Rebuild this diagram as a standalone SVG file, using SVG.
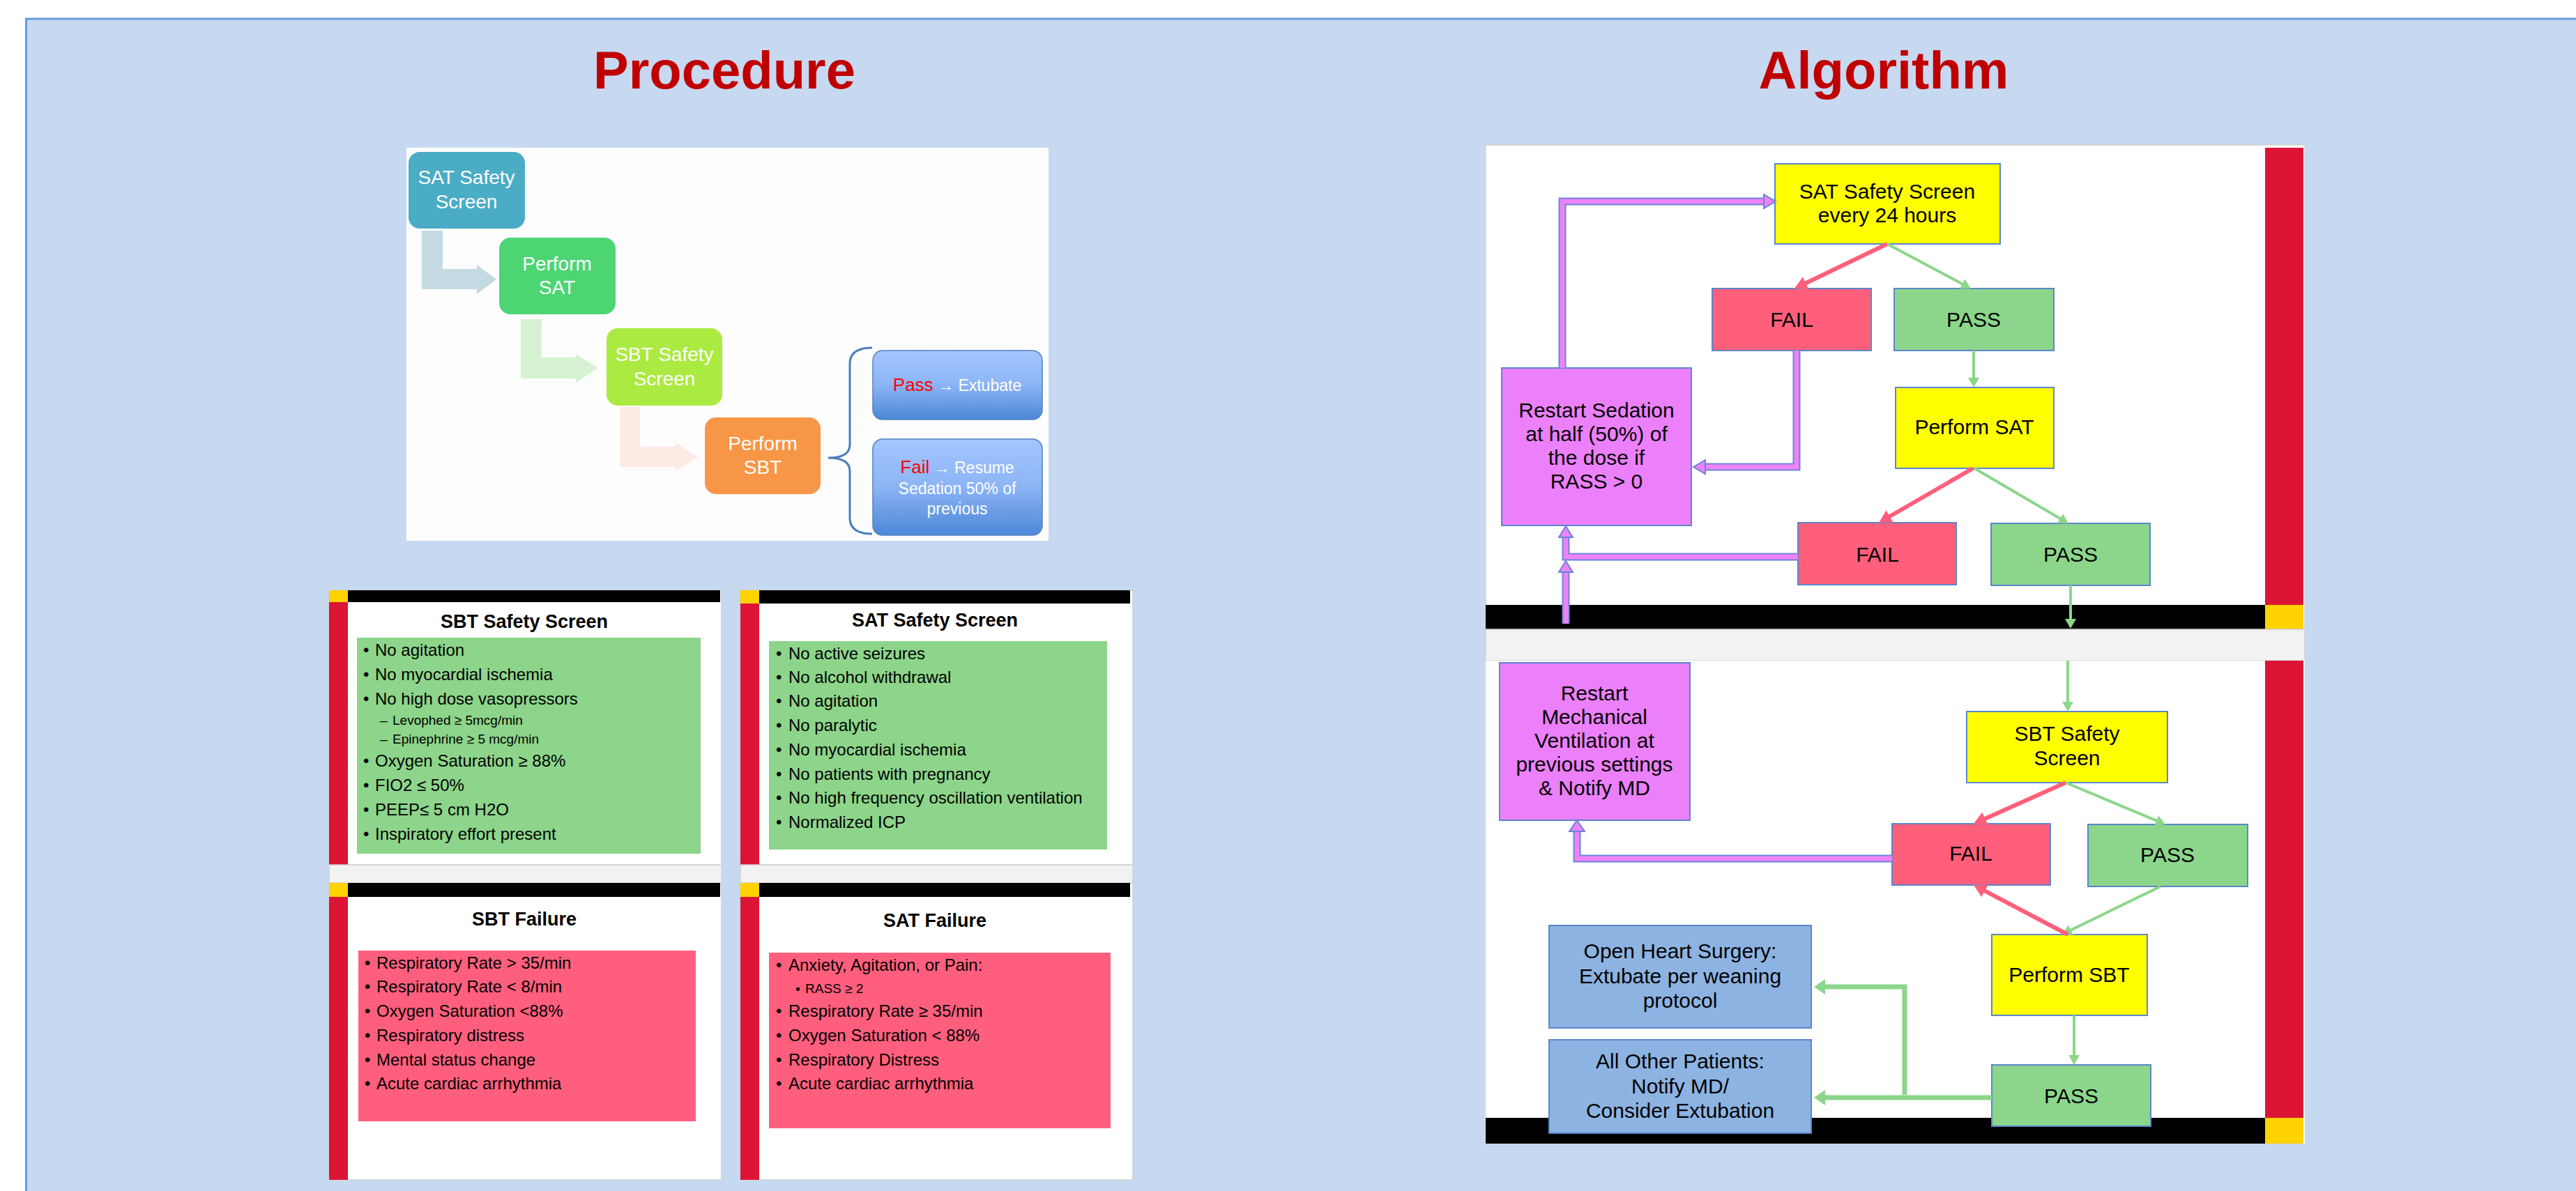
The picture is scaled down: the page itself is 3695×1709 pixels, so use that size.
<svg xmlns="http://www.w3.org/2000/svg" width="3695" height="1709" viewBox="0 0 3695 1709">
<defs>
<style>
text{font-family:"Liberation Sans",Arial,sans-serif}
.ttl{font-weight:bold;font-size:76px;fill:#C00000;text-anchor:middle}
.pw{fill:#fff;font-size:28px;text-anchor:middle}
.pf{fill:#fff;font-size:23px;text-anchor:middle}
.rd{fill:#FF0000;font-size:26px}
.ct{font-weight:bold;font-size:27px;text-anchor:middle;fill:#000}
.b{font-size:24px;fill:#000}
.s{font-size:19px;fill:#000}
.n{font-size:30px;text-anchor:middle;fill:#000}
.bx{stroke:#5B86CC;stroke-width:2}
.red{fill:#FF5F7B}.grn{fill:#8CD68B}.yel{fill:#FFFF00}.mag{fill:#EC80FA}.blu{fill:#8DB3E2}
.ar{stroke:#FF5F7B;stroke-width:6;fill:none}
.ag{stroke:#8CD68B;stroke-width:4;fill:none}
.agt{stroke:#8CD68B;stroke-width:7;fill:none}
.po{stroke:#6A86D8;stroke-width:11;fill:none}
.pi{stroke:#EE82F8;stroke-width:7;fill:none}
.ph{fill:#EE82F8;stroke:#6A86D8;stroke-width:2}
.cw{fill:#fff;stroke:#CFCFCF;stroke-width:1.5}
.cy{fill:#FFD200}.ck{fill:#000}.cr{fill:#DC1537}
.cg{fill:#8CD58A}.cp{fill:#FF5F7D}
.band{fill:#F2F2F2;stroke:#D2D2D2;stroke-width:1.5}
</style>
<linearGradient id="gb" x1="0" y1="0" x2="0" y2="1">
<stop offset="0" stop-color="#A4C6FF"/><stop offset="0.5" stop-color="#8CB4F5"/><stop offset="1" stop-color="#4C87D8"/>
</linearGradient>
<marker id="mr" markerUnits="userSpaceOnUse" markerWidth="20" markerHeight="20" refX="8" refY="10" orient="auto"><path d="M0,0 L18,10 L0,20 z" fill="#FF5F7B"/></marker>
<marker id="mg" markerUnits="userSpaceOnUse" markerWidth="16" markerHeight="16" refX="6" refY="8" orient="auto"><path d="M0,0 L14,8 L0,16 z" fill="#8CD68B"/></marker>
<marker id="mgt" markerUnits="userSpaceOnUse" markerWidth="18" markerHeight="22" refX="6" refY="11" orient="auto"><path d="M0,0 L16,11 L0,22 z" fill="#8CD68B"/></marker>
</defs>
<rect x="0" y="0" width="3695" height="1709" fill="#fff"/>
<rect x="37.5" y="27" width="3700" height="1700" fill="#C6D9F1" stroke="#6A9AE0" stroke-width="3"/>
<text class="ttl" x="1039" y="127">Procedure</text>
<text class="ttl" x="2702" y="127">Algorithm</text>

<!-- Procedure graphic -->
<g id="procedure">
<rect x="583" y="212" width="921" height="564" fill="#FDFDFD"/>
<path d="M1251,499 Q1219,499 1219,522 V638 Q1219,657 1188,657 Q1219,657 1219,676 V743 Q1219,766 1251,766" fill="none" stroke="#4A7EBB" stroke-width="3"/>
</g>
<g id="p-sat-screen"><rect x="586" y="218" width="167" height="110" rx="16" fill="#4BACC6"/><text class="pw" x="669" y="264">SAT Safety</text><text class="pw" x="669" y="299">Screen</text></g>
<g id="p-perform-sat"><rect x="716" y="341" width="167" height="110" rx="16" fill="#4DD574"/><text class="pw" x="799" y="388">Perform</text><text class="pw" x="799" y="422">SAT</text></g>
<g id="p-sbt-screen"><rect x="870" y="471" width="166" height="111" rx="16" fill="#ABEA41"/><text class="pw" x="953" y="518">SBT Safety</text><text class="pw" x="953" y="553">Screen</text></g>
<g id="p-perform-sbt"><rect x="1011" y="599" width="166" height="110" rx="16" fill="#F79646"/><text class="pw" x="1094" y="646">Perform</text><text class="pw" x="1094" y="680">SBT</text></g>
<g id="p-pass"><rect x="1252" y="503" width="243" height="99" rx="14" fill="url(#gb)" stroke="#4F81BD" stroke-width="1.5"/><text class="pf" x="1373" y="561"><tspan class="rd">Pass</tspan> → Extubate</text></g>
<g id="p-fail"><rect x="1252" y="630" width="243" height="138" rx="14" fill="url(#gb)" stroke="#4F81BD" stroke-width="1.5"/><text class="pf" x="1373" y="679"><tspan class="rd">Fail</tspan> → Resume</text><text class="pf" x="1373" y="709">Sedation 50% of</text><text class="pf" x="1373" y="738">previous</text></g>

<!-- Cards -->
<g id="card-sbt-safety">
<rect class="cw" x="472" y="847" width="563" height="394"/>
<rect class="cy" x="472" y="847" width="27" height="17"/><rect class="ck" x="499" y="847" width="534" height="17"/><rect class="cr" x="472" y="864" width="27" height="377"/>
<text class="ct" x="752" y="901">SBT Safety Screen</text>
<rect class="cg" x="512" y="915" width="493" height="310"/>
<g class="b">
<text x="521" y="941">•</text><text x="538" y="941">No agitation</text>
<text x="521" y="976">•</text><text x="538" y="976">No myocardial ischemia</text>
<text x="521" y="1011">•</text><text x="538" y="1011">No high dose vasopressors</text>
<text x="521" y="1100">•</text><text x="538" y="1100">Oxygen Saturation ≥ 88%</text>
<text x="521" y="1135">•</text><text x="538" y="1135">FIO2 ≤ 50%</text>
<text x="521" y="1170">•</text><text x="538" y="1170">PEEP≤ 5 cm H2O</text>
<text x="521" y="1205">•</text><text x="538" y="1205">Inspiratory effort present</text>
</g>
<text class="s" x="545" y="1040">–</text><text class="s" x="563" y="1040">Levophed ≥ 5mcg/min</text>
<text class="s" x="545" y="1067">–</text><text class="s" x="563" y="1067">Epinephrine ≥ 5 mcg/min</text>
</g>
<rect class="band" x="472" y="1241" width="563" height="26"/>
<g id="card-sbt-failure">
<rect class="cw" x="472" y="1267" width="563" height="426"/>
<rect class="cy" x="472" y="1267" width="27" height="20"/><rect class="ck" x="499" y="1267" width="534" height="20"/><rect class="cr" x="472" y="1287" width="27" height="406"/>
<text class="ct" x="752" y="1328">SBT Failure</text>
<rect class="cp" x="514" y="1364" width="484" height="245"/>
<g class="b">
<text x="523" y="1390">•</text><text x="540" y="1390">Respiratory Rate &gt; 35/min</text>
<text x="523" y="1424">•</text><text x="540" y="1424">Respiratory Rate &lt; 8/min</text>
<text x="523" y="1459">•</text><text x="540" y="1459">Oxygen Saturation &lt;88%</text>
<text x="523" y="1494">•</text><text x="540" y="1494">Respiratory distress</text>
<text x="523" y="1529">•</text><text x="540" y="1529">Mental status change</text>
<text x="523" y="1563">•</text><text x="540" y="1563">Acute cardiac arrhythmia</text>
</g>
</g>
<g id="card-sat-safety">
<rect class="cw" x="1062" y="847" width="563" height="394"/>
<rect class="cy" x="1062" y="847" width="27" height="19"/><rect class="ck" x="1089" y="847" width="532" height="19"/><rect class="cr" x="1062" y="866" width="27" height="375"/>
<text class="ct" x="1341" y="899">SAT Safety Screen</text>
<rect class="cg" x="1103" y="920" width="485" height="299"/>
<g class="b">
<text x="1113" y="946">•</text><text x="1131" y="946">No active seizures</text>
<text x="1113" y="980">•</text><text x="1131" y="980">No alcohol withdrawal</text>
<text x="1113" y="1014">•</text><text x="1131" y="1014">No agitation</text>
<text x="1113" y="1049">•</text><text x="1131" y="1049">No paralytic</text>
<text x="1113" y="1084">•</text><text x="1131" y="1084">No myocardial ischemia</text>
<text x="1113" y="1119">•</text><text x="1131" y="1119">No patients with pregnancy</text>
<text x="1113" y="1153">•</text><text x="1131" y="1153">No high frequency oscillation ventilation</text>
<text x="1113" y="1188">•</text><text x="1131" y="1188">Normalized ICP</text>
</g>
</g>
<rect class="band" x="1062" y="1241" width="563" height="26"/>
<g id="card-sat-failure">
<rect class="cw" x="1062" y="1267" width="563" height="426"/>
<rect class="cy" x="1062" y="1267" width="27" height="20"/><rect class="ck" x="1089" y="1267" width="532" height="20"/><rect class="cr" x="1062" y="1287" width="27" height="406"/>
<text class="ct" x="1341" y="1330">SAT Failure</text>
<rect class="cp" x="1103" y="1367" width="490" height="252"/>
<g class="b">
<text x="1113" y="1393">•</text><text x="1131" y="1393">Anxiety, Agitation, or Pain:</text>
<text x="1113" y="1459">•</text><text x="1131" y="1459">Respiratory Rate ≥ 35/min</text>
<text x="1113" y="1494">•</text><text x="1131" y="1494">Oxygen Saturation &lt; 88%</text>
<text x="1113" y="1529">•</text><text x="1131" y="1529">Respiratory Distress</text>
<text x="1113" y="1563">•</text><text x="1131" y="1563">Acute cardiac arrhythmia</text>
</g>
<text class="s" x="1141" y="1425">▪</text><text class="s" x="1155" y="1425">RASS ≥ 2</text>
</g>

<!-- Algorithm frames -->
<g id="algo-frames">
<rect x="2131" y="208" width="1175" height="695" fill="#fff" stroke="#CFCFCF" stroke-width="1.5"/>
<rect class="cr" x="3249" y="212" width="55" height="656"/>
<rect class="ck" x="2131" y="868" width="1118" height="35"/>
<rect class="cy" x="3249" y="868" width="55" height="35"/>
<rect class="band" x="2131" y="903" width="1175" height="45"/>
<rect x="2131" y="948" width="1175" height="693" fill="#fff"/>
<rect class="cr" x="3249" y="948" width="55" height="656"/>
<rect class="ck" x="2131" y="1604" width="1118" height="37"/>
<rect class="cy" x="3249" y="1604" width="55" height="37"/>
</g>

<!-- Algorithm nodes -->
<g id="a-sat-screen"><rect class="yel bx" x="2546" y="235" width="323" height="115"/><text class="n" x="2707" y="285">SAT Safety Screen</text><text class="n" x="2707" y="319">every 24 hours</text></g>
<g id="a-fail1"><rect class="red bx" x="2456" y="414" width="228" height="89"/><text class="n" x="2570" y="469">FAIL</text></g>
<g id="a-pass1"><rect class="grn bx" x="2717" y="414" width="229" height="89"/><text class="n" x="2831" y="469">PASS</text></g>
<g id="a-restart-sed"><rect class="mag bx" x="2154" y="528" width="272" height="226"/><text class="n" x="2290" y="599">Restart Sedation</text><text class="n" x="2290" y="633">at half (50%) of</text><text class="n" x="2290" y="667">the dose if</text><text class="n" x="2290" y="701">RASS &gt; 0</text></g>
<g id="a-perform-sat"><rect class="yel bx" x="2719" y="556" width="227" height="116"/><text class="n" x="2832" y="623">Perform SAT</text></g>
<g id="a-fail2"><rect class="red bx" x="2579" y="750" width="227" height="89"/><text class="n" x="2693" y="806">FAIL</text></g>
<g id="a-pass2"><rect class="grn bx" x="2856" y="751" width="228" height="89"/><text class="n" x="2970" y="806">PASS</text></g>
<g id="a-restart-mv"><rect class="mag bx" x="2151" y="951" width="273" height="226"/><text class="n" x="2287" y="1005">Restart</text><text class="n" x="2287" y="1039">Mechanical</text><text class="n" x="2287" y="1073">Ventilation at</text><text class="n" x="2287" y="1107">previous settings</text><text class="n" x="2287" y="1141">&amp; Notify MD</text></g>
<g id="a-sbt-screen"><rect class="yel bx" x="2821" y="1021" width="288" height="102"/><text class="n" x="2965" y="1063">SBT Safety</text><text class="n" x="2965" y="1098">Screen</text></g>
<g id="a-fail3"><rect class="red bx" x="2714" y="1182" width="227" height="88"/><text class="n" x="2827" y="1235">FAIL</text></g>
<g id="a-pass3"><rect class="grn bx" x="2995" y="1183" width="229" height="89"/><text class="n" x="3109" y="1237">PASS</text></g>
<g id="a-perform-sbt"><rect class="yel bx" x="2857" y="1341" width="223" height="116"/><text class="n" x="2968" y="1409">Perform SBT</text></g>
<g id="a-pass4"><rect class="grn bx" x="2857" y="1528" width="228" height="88"/><text class="n" x="2971" y="1583">PASS</text></g>
<g id="a-open-heart"><rect class="blu bx" x="2222" y="1328" width="376" height="147"/><text class="n" x="2410" y="1375">Open Heart Surgery:</text><text class="n" x="2410" y="1411">Extubate per weaning</text><text class="n" x="2410" y="1446">protocol</text></g>
<g id="a-all-other"><rect class="blu bx" x="2222" y="1492" width="376" height="134"/><text class="n" x="2410" y="1533">All Other Patients:</text><text class="n" x="2410" y="1569">Notify MD/</text><text class="n" x="2410" y="1604">Consider Extubation</text></g>

<!-- Connectors -->
<g id="connectors">
<path d="M605,331 H635 V386 H684 V380 L712,401 L684,422 V415 H605 Z" fill="#C3DAE2"/>
<path d="M747,458 H777 V513 H826 V508 L858,528 L826,549 V543 H747 Z" fill="#D6F1D2"/>
<path d="M889,584 H918 V641 H969 V635 L1001,656 L969,676 V670 H889 Z" fill="#FCEBE5"/>

<line class="ar" x1="2707" y1="350" x2="2583" y2="409.7" marker-end="url(#mr)"/>
<line class="ag" x1="2707" y1="350" x2="2819.9" y2="410.2" marker-end="url(#mg)"/>
<line class="ag" x1="2831" y1="503" x2="2831" y2="548" marker-end="url(#mg)"/>
<line class="ar" x1="2830" y1="672" x2="2703.7" y2="745" marker-end="url(#mr)"/>
<line class="ag" x1="2832" y1="672" x2="2960.1" y2="747" marker-end="url(#mg)"/>
<line class="ag" x1="2970" y1="840" x2="2970" y2="894" marker-end="url(#mg)"/>
<line class="ag" x1="2966" y1="948" x2="2966" y2="1013" marker-end="url(#mg)"/>
<line class="ar" x1="2963" y1="1123" x2="2840.1" y2="1177.9" marker-end="url(#mr)"/>
<line class="ag" x1="2963" y1="1123" x2="3098.6" y2="1179.9" marker-end="url(#mg)"/>
<line class="ag" x1="3099" y1="1272" x2="2965" y2="1337.2" marker-end="url(#mg)"/>
<line class="ar" x1="2966" y1="1341" x2="2839.9" y2="1274.7" marker-end="url(#mr)"/>
<line class="ag" x1="2975" y1="1457" x2="2975" y2="1520" marker-end="url(#mg)"/>
<line class="agt" x1="2857" y1="1575" x2="2612" y2="1575" marker-end="url(#mgt)"/>
<path class="agt" d="M2732,1571 V1416 H2612" marker-end="url(#mgt)"/>

<path class="po" d="M2241,528 V289 H2531"/><path class="pi" d="M2241,528 V289 H2531"/>
<polygon class="ph" points="2530,279 2547,289 2530,299"/>
<path class="po" d="M2577,503 V670 H2445"/><path class="pi" d="M2577,503 V670 H2445"/>
<polygon class="ph" points="2446,660 2429,670 2446,680"/>
<path class="po" d="M2579,799 H2246 V770"/><path class="pi" d="M2579,799 H2246 V770"/>
<polygon class="ph" points="2236,771 2246,755 2256,771"/>
<path class="po" d="M2246,895 V820"/><path class="pi" d="M2246,895 V820"/>
<polygon class="ph" points="2236,821 2246,805 2256,821"/>
<path class="po" d="M2714,1232 H2262 V1192"/><path class="pi" d="M2714,1232 H2262 V1192"/>
<polygon class="ph" points="2251,1193 2262,1177 2273,1193"/>
</g>
</svg>
